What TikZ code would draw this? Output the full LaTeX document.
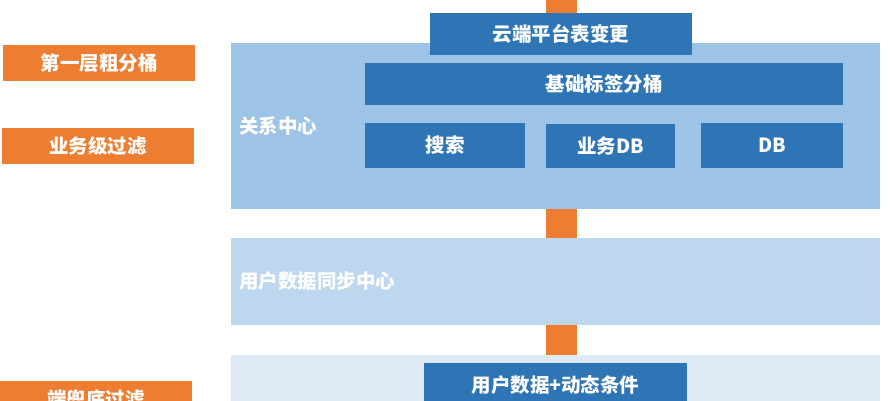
\documentclass[tikz,border=0pt]{standalone}
\usepackage{fontspec}
\setmainfont{Noto Sans CJK SC}
\definecolor{org}{HTML}{ED7D31}
\definecolor{dblue}{HTML}{2E75B6}
\definecolor{pa}{HTML}{9DC3E6}
\definecolor{pb}{HTML}{BDD7EE}
\definecolor{pc}{HTML}{DEEBF7}
\begin{document}
\begin{tikzpicture}[x=1pt,y=-1pt,
  every node/.style={font=\bfseries\fontsize{19.5}{22}\selectfont, text=white, inner sep=0pt, outer sep=0pt},
  tag/.style={fill=org, minimum width=192pt, minimum height=36pt, anchor=north west},
  dbox/.style={fill=dblue, anchor=north west},
  panel/.style={anchor=north west, minimum width=649pt},
  bar/.style={draw=org, line width=31pt}]
\useasboundingbox (0,0) rectangle (893,400);
\clip (0,0) rectangle (893,400);
% tags
\node[tag] (t1) at (3,45) {第一层粗分桶};
\node[tag] (t2) at (2,128) {业务级过滤};
\node[tag] (t3) at (0,381) {端兜底过滤};
% panels
\node[panel, fill=pa, minimum height=166pt] (p1) at (231,43) {};
\node[panel, fill=pb, minimum height=87pt] (p2) at (231,238) {};
\node[panel, fill=pc, minimum height=60pt] (p3) at (231,355) {};
\node[anchor=west] (l1) at ([xshift=8pt]p1.west) {关系中心};
\node[anchor=west] (l2) at ([xshift=8pt]p2.west) {用户数据同步中心};
% boxes
\node[dbox, minimum width=262pt, minimum height=42pt] (cloud) at (430,13) {云端平台表变更};
\node[dbox, minimum width=478pt, minimum height=42pt] (base) at (365,63) {基础标签分桶};
\node[dbox, minimum width=160pt, minimum height=45pt] (search) at (365,123) {搜索};
\node[dbox, minimum width=129pt, minimum height=44pt] (bizdb) at (546,124) {业务DB};
\node[dbox, minimum width=142pt, minimum height=45pt] (db) at (701,123) {DB};
\node[dbox, minimum width=263pt, minimum height=44pt] (ud) at (424,363) {用户数据+动态条件};
% connectors
\coordinate (c) at (561.5,0);
\draw[bar] (c) -- (cloud.north -| c);
\draw[bar] (p1.south -| c) -- (p2.north -| c);
\draw[bar] (p2.south -| c) -- (p3.north -| c);
\end{tikzpicture}
\end{document}
